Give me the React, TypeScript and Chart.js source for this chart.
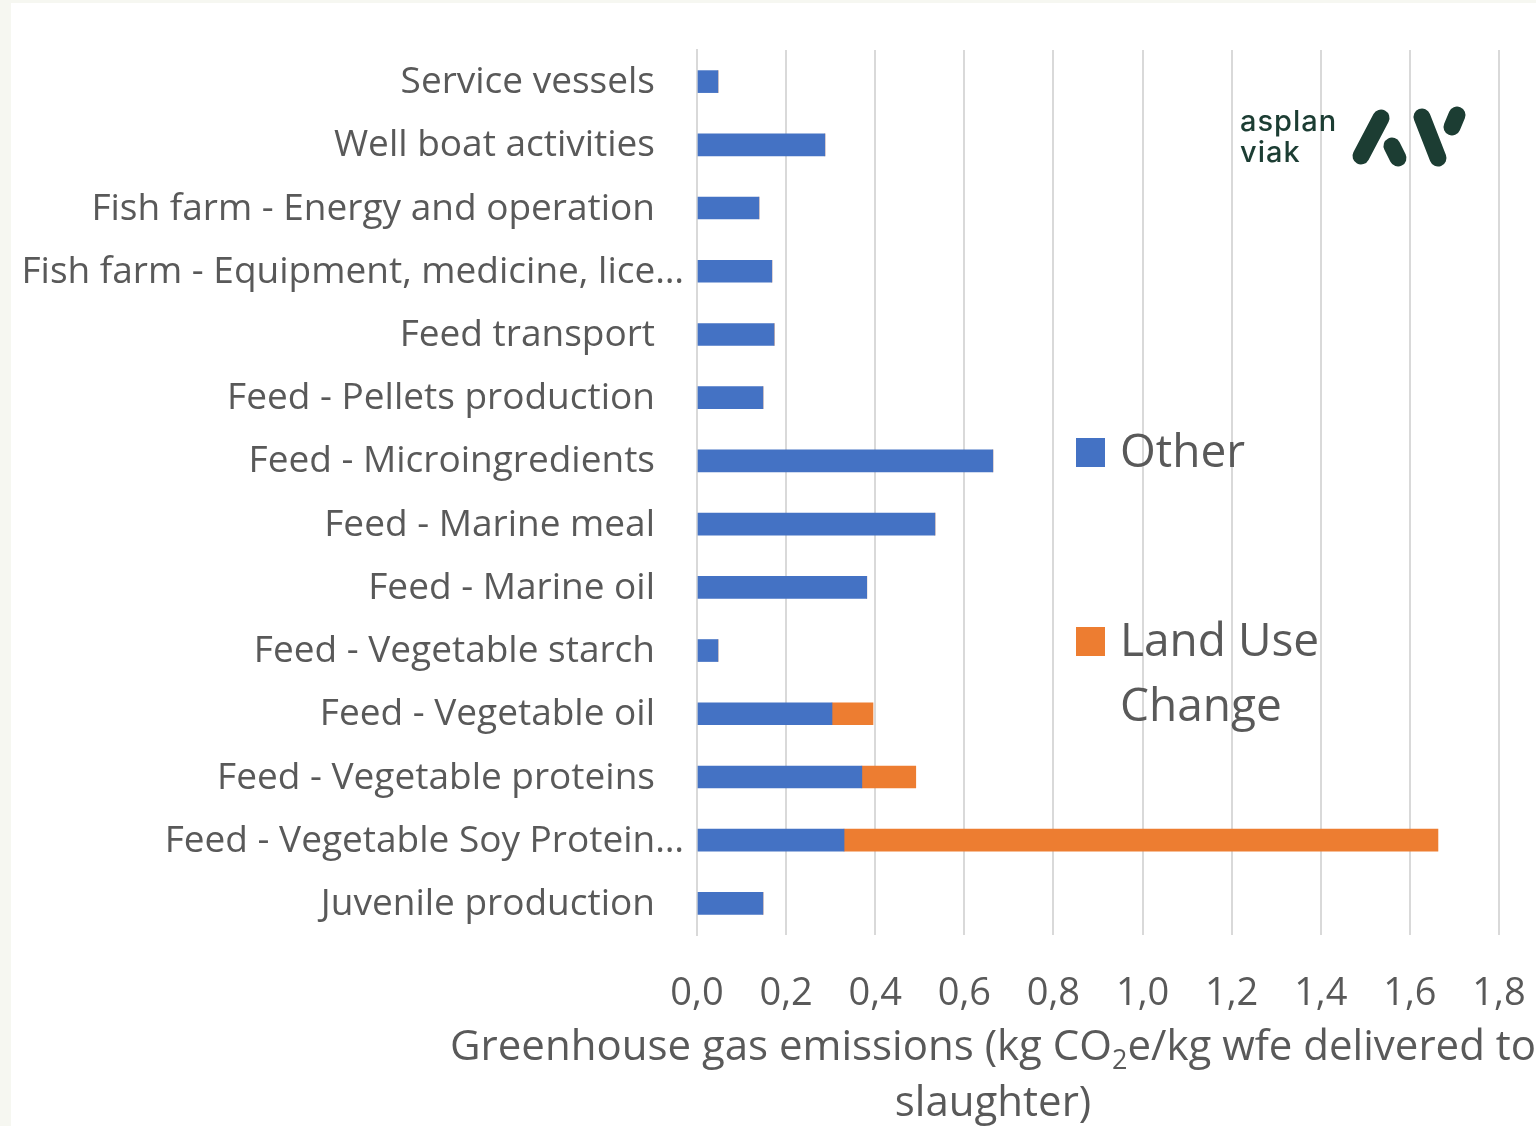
import React, { useEffect, useRef } from "react";
import { Chart, registerables } from "chart.js";

Chart.register(...registerables);

const categories = [
  "Service vessels",
  "Well boat activities",
  "Fish farm - Energy and operation",
  "Fish farm - Equipment, medicine, lice…",
  "Feed transport",
  "Feed - Pellets production",
  "Feed - Microingredients",
  "Feed - Marine meal",
  "Feed - Marine oil",
  "Feed - Vegetable starch",
  "Feed - Vegetable oil",
  "Feed - Vegetable proteins",
  "Feed - Vegetable Soy Protein…",
  "Juvenile production",
];

const otherValues = [0.047, 0.287, 0.139, 0.168, 0.173, 0.148, 0.664, 0.534, 0.381, 0.047, 0.303, 0.37, 0.33, 0.148];
const landUseValues = [0, 0, 0, 0, 0, 0, 0, 0, 0, 0, 0.092, 0.121, 1.333, 0];

const xTickLabels = ["0,0", "0,2", "0,4", "0,6", "0,8", "1,0", "1,2", "1,4", "1,6", "1,8"];

const seriesNames = ["Other", "Land Use Change"];
const legendLines = [["Other"], ["Land Use", "Change"]];
const titleParts = ["Greenhouse gas emissions (kg CO", "2", "e/kg wfe delivered to"];
const titleLine2 = "slaughter)";
const logoWords = ["asplan", "viak"];

const BLUE = "#4472C4";
const ORANGE = "#ED7D31";
const TEXT = "#595959";
const GRID = "#d9d9d9";
const FONT = "'Open Sans', sans-serif";

const overlayPlugin = {
  id: "overlay",
  afterDraw(chart: any) {
    const ctx = chart.ctx as CanvasRenderingContext2D;
    const area = chart.chartArea;
    const yScale = chart.scales.y;
    ctx.save();

    // Category labels
    ctx.fillStyle = TEXT;
    ctx.font = `37px ${FONT}`;
    ctx.textAlign = "right";
    ctx.textBaseline = "middle";
    categories.forEach((label, i) => {
      const y = yScale.getPixelForValue(i);
      const x = label.endsWith("…") ? area.left - 13 : area.left - 42;
      ctx.fillText(label, x, y + 1);
    });

    // Legend
    const colors = [BLUE, ORANGE];
    const legendTop = [449, 638];
    ctx.textAlign = "left";
    ctx.font = `46px ${FONT}`;
    legendLines.forEach((lines, i) => {
      const cy = legendTop[i];
      ctx.fillStyle = colors[i];
      ctx.fillRect(1065, cy - 14, 29, 29);
      ctx.fillStyle = TEXT;
      lines.forEach((ln, j) => {
        ctx.fillText(ln, 1109, cy + 2 + j * 65);
      });
    });

    // Axis title with subscript
    const mainFont = `42px ${FONT}`;
    const subFont = `27px ${FONT}`;
    ctx.fillStyle = TEXT;
    ctx.font = mainFont;
    const w0 = ctx.measureText(titleParts[0]).width;
    const w2 = ctx.measureText(titleParts[2]).width;
    ctx.font = subFont;
    const w1 = ctx.measureText(titleParts[1]).width;
    const total = w0 + w1 + w2;
    const cx = 982;
    let x = cx - total / 2;
    const ty = 1045;
    ctx.font = mainFont;
    ctx.fillText(titleParts[0], x, ty);
    x += w0;
    ctx.font = subFont;
    ctx.fillText(titleParts[1], x, ty + 13);
    x += w1;
    ctx.font = mainFont;
    ctx.fillText(titleParts[2], x, ty);
    ctx.textAlign = "center";
    ctx.fillText(titleLine2, cx, 1101);

    // Logo
    const green = "#1c3d33";
    ctx.fillStyle = green;
    ctx.textAlign = "left";
    ctx.textBaseline = "alphabetic";
    ctx.font = `500 29px Inter, sans-serif`;
    (ctx as any).letterSpacing = "1px";
    ctx.fillText(logoWords[0], 1229, 128);
    ctx.fillText(logoWords[1], 1229, 159);
    (ctx as any).letterSpacing = "0px";
    ctx.strokeStyle = green;
    ctx.lineCap = "round";
    ctx.lineWidth = 17;
    const strokes = [
      [1370, 115, 1350, 153],
      [1381, 143, 1387, 155],
      [1411, 114, 1427, 155],
      [1446, 112, 1441, 124],
    ];
    strokes.forEach(([a, b, c, d]) => {
      ctx.beginPath();
      ctx.moveTo(a, b);
      ctx.lineTo(c, d);
      ctx.stroke();
    });

    ctx.restore();
  },
};

export default function App() {
  const ref = useRef<HTMLCanvasElement | null>(null);

  useEffect(() => {
    if (!ref.current) return;
    const chart = new Chart(ref.current, {
      type: "bar",
      data: {
        labels: categories,
        datasets: [
          {
            label: seriesNames[0],
            data: otherValues,
            backgroundColor: BLUE,
            barThickness: 22,
          },
          {
            label: seriesNames[1],
            data: landUseValues,
            backgroundColor: ORANGE,
            barThickness: 22,
          },
        ],
      },
      options: {
        indexAxis: "y",
        animation: false,
        responsive: false,
        maintainAspectRatio: false,
        layout: { padding: { top: 47, right: 37, bottom: 0, left: 0 } },
        plugins: {
          legend: { display: false },
          tooltip: { enabled: false },
          title: { display: false },
        },
        scales: {
          x: {
            stacked: true,
            min: 0,
            max: 1.8,
            ticks: {
              stepSize: 0.2,
              color: TEXT,
              font: { family: FONT, size: 38 },
              padding: 36,
              callback: (_v: any, i: number) => xTickLabels[i],
            },
            grid: { color: GRID, lineWidth: 2, drawTicks: false },
            border: { display: false },
            afterFit: (s: any) => {
              s.height = 191;
              s.paddingRight = 0;
              s.paddingLeft = 0;
            },
          },
          y: {
            stacked: true,
            ticks: { display: false },
            grid: { display: false, drawTicks: false },
            border: { display: true, color: GRID, width: 2 },
            afterFit: (s: any) => {
              s.width = 686;
            },
          },
        },
      },
      plugins: [overlayPlugin],
    });
    return () => chart.destroy();
  }, []);

  return (
    <div
      style={{
        position: "absolute",
        left: 0,
        top: 0,
        width: 1536,
        height: 1126,
        background: "#f6f7f1",
        overflow: "hidden",
      }}
    >
      <canvas
        ref={ref}
        width={1525}
        height={1123}
        style={{ position: "absolute", left: 11, top: 3, width: 1525, height: 1123, background: "#ffffff" }}
      />
    </div>
  );
}
